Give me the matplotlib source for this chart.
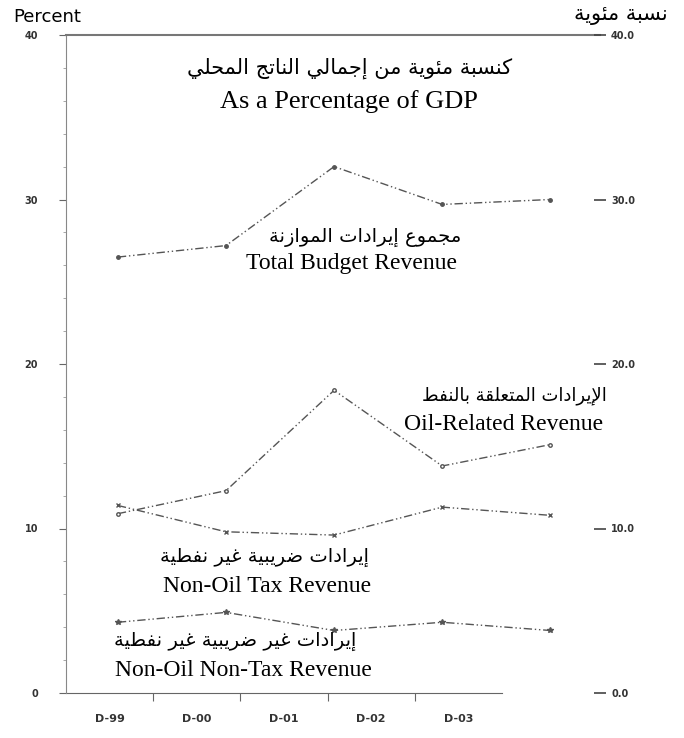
import numpy as np
import matplotlib.pyplot as plt

# --- data (percent of GDP) ---
years = ["D-99", "D-00", "D-01", "D-02", "D-03"]
total_budget = [26.5, 27.2, 32.0, 29.7, 30.0]
oil_related = [10.9, 12.3, 18.4, 13.8, 15.1]
non_oil_tax = [11.4, 9.8, 9.6, 11.3, 10.8]
non_oil_non_tax = [4.3, 4.9, 3.8, 4.3, 3.8]
y_ticks = [0, 10, 20, 30, 40]


# minimal arabic shaping (matplotlib has no bidi / joining support)
FOUR = {'ئ': 0xFE89, 'ب': 0xFE8F, 'ت': 0xFE95, 'ث': 0xFE99, 'ج': 0xFE9D,
        'ح': 0xFEA1, 'خ': 0xFEA5, 'س': 0xFEB1, 'ش': 0xFEB5, 'ص': 0xFEB9,
        'ض': 0xFEBD, 'ط': 0xFEC1, 'ظ': 0xFEC5, 'ع': 0xFEC9, 'غ': 0xFECD,
        'ف': 0xFED1, 'ق': 0xFED5, 'ك': 0xFED9, 'ل': 0xFEDD, 'م': 0xFEE1,
        'ن': 0xFEE5, 'ه': 0xFEE9, 'ي': 0xFEF1}
TWO = {'آ': 0xFE81, 'أ': 0xFE83, 'ؤ': 0xFE85, 'إ': 0xFE87, 'ا': 0xFE8D,
       'ة': 0xFE93, 'د': 0xFEA9, 'ذ': 0xFEAB, 'ر': 0xFEAD, 'ز': 0xFEAF,
       'و': 0xFEED, 'ى': 0xFEEF}
LAM_ALEF = {'آ': 0xFEF5, 'أ': 0xFEF7, 'إ': 0xFEF9, 'ا': 0xFEFB}


def shape(text):
    out = []
    i = 0
    n = len(text)
    while i < n:
        c = text[i]
        prev = text[i - 1] if i > 0 else ''
        joins_prev = prev in FOUR
        if c == 'ل' and i + 1 < n and text[i + 1] in LAM_ALEF:
            out.append(chr(LAM_ALEF[text[i + 1]] + (1 if joins_prev else 0)))
            i += 2
            continue
        nxt = text[i + 1] if i + 1 < n else ''
        if c in FOUR:
            joins_next = nxt in FOUR or nxt in TWO or nxt == 'ء'
            if joins_prev and joins_next:
                out.append(chr(FOUR[c] + 3))
            elif joins_prev:
                out.append(chr(FOUR[c] + 1))
            elif joins_next:
                out.append(chr(FOUR[c] + 2))
            else:
                out.append(chr(FOUR[c]))
        elif c in TWO:
            out.append(chr(TWO[c] + (1 if joins_prev else 0)))
        elif c == 'ء':
            out.append(chr(0xFE80))
        else:
            out.append(c)
        i += 1
    return ''.join(reversed(out))


gray = '#555555'
dash = (0, (6, 2, 1, 2, 1, 2))
serif = ['Liberation Serif', 'DejaVu Serif']
arab = ['DejaVu Sans']

fig = plt.figure(figsize=(6.84, 7.38), dpi=100)
left, bottom, width, height = 66 / 684, 1 - 693 / 738, 534 / 684, 658 / 738

# category axis at the bottom (narrower than the plotting area, like the scan)
axc = fig.add_axes([left, bottom, 436 / 684, height])
axc.set_xlim(0, 5)
axc.set_ylim(0, 40)
for s in ['top', 'right', 'left']:
    axc.spines[s].set_visible(False)
axc.spines['bottom'].set_color('#666666')
axc.set_yticks([])
axc.set_xticks([1, 2, 3, 4])
axc.set_xticklabels([])
axc.set_xticks(np.arange(5) + 0.5, minor=True)
axc.set_xticklabels(years, minor=True, fontsize=8, fontweight='bold', color='#333333')
axc.tick_params(axis='x', which='major', direction='out', length=6, color='#666666')
axc.tick_params(axis='x', which='minor', length=0, pad=15)
axc.patch.set_visible(False)

# main data axes
ax = fig.add_axes([left, bottom, width, height])
ax.patch.set_visible(False)
x = np.arange(len(years))
ax.set_xlim(-0.48, 4.46)
ax.set_ylim(0, 40)

ax.plot(x, total_budget, linestyle=dash, color=gray, lw=1, marker='o', ms=2.5)
ax.plot(x, oil_related, linestyle=dash, color=gray, lw=1, marker='o', ms=2.5, mfc='white')
ax.plot(x, non_oil_tax, linestyle=dash, color=gray, lw=1, marker='x', ms=3.5)
ax.plot(x, non_oil_non_tax, linestyle=dash, color=gray, lw=1, marker='*', ms=4)

ax.spines['right'].set_visible(False)
ax.spines['bottom'].set_visible(False)
ax.spines['left'].set_color('#888888')
ax.spines['top'].set_color('#777777')
ax.spines['top'].set_linewidth(1.5)
ax.set_xticks([])
ax.set_yticks(y_ticks)
ax.set_yticklabels([str(v) for v in y_ticks], fontsize=7, fontweight='bold', color='#333333')
ax.set_yticks(np.arange(0, 41, 2), minor=True)
ax.tick_params(axis='y', which='major', direction='out', length=5, pad=15, color='#666666')
ax.tick_params(axis='y', which='minor', direction='out', length=2, color='#999999')

axr = ax.twinx()
axr.set_ylim(0, 40)
for s in ['top', 'right', 'left', 'bottom']:
    axr.spines[s].set_visible(False)
axr.set_yticks(y_ticks)
axr.set_yticklabels(['%.1f' % v for v in y_ticks], fontsize=7, fontweight='bold', color='#333333')
axr.tick_params(axis='y', direction='inout', length=8, width=1.2, pad=4, color='#444444')


# labels, positions given in pixels of the 684x738 picture
def ar(px, py, s, ha='center', size=14):
    ax.text((px - 66) / 534, (693 - py) / 658, shape(s), transform=ax.transAxes,
            ha=ha, va='center', fontsize=size, family=arab)


def en(px, py, s, ha='center', size=17):
    ax.text((px - 66) / 534, (693 - py) / 658, s, transform=ax.transAxes,
            ha=ha, va='center', fontsize=size, family=serif)


ar(350, 68, "كنسبة مئوية من إجمالي الناتج المحلي", size=15)
en(349, 102, "As a Percentage of GDP", size=19)
ar(365, 237, "مجموع إيرادات الموازنة")
en(351, 264, "Total Budget Revenue")
ar(607, 396, "الإيرادات المتعلقة بالنفط", ha='right', size=13)
en(603, 425, "Oil-Related Revenue", ha='right')
ar(264, 557, "إيرادات ضريبية غير نفطية")
en(267, 586, "Non-Oil Tax Revenue")
ar(235, 641, "إيرادات غير ضريبية غير نفطية")
en(243, 670, "Non-Oil Non-Tax Revenue")

fig.text(13 / 684, 1 - 17 / 738, "Percent", fontsize=13, va='center', ha='left')
fig.text(668 / 684, 1 - 15 / 738, shape("نسبة مئوية"), fontsize=15, va='center',
         ha='right', family=arab)

fig.savefig('out.png', dpi=100)
